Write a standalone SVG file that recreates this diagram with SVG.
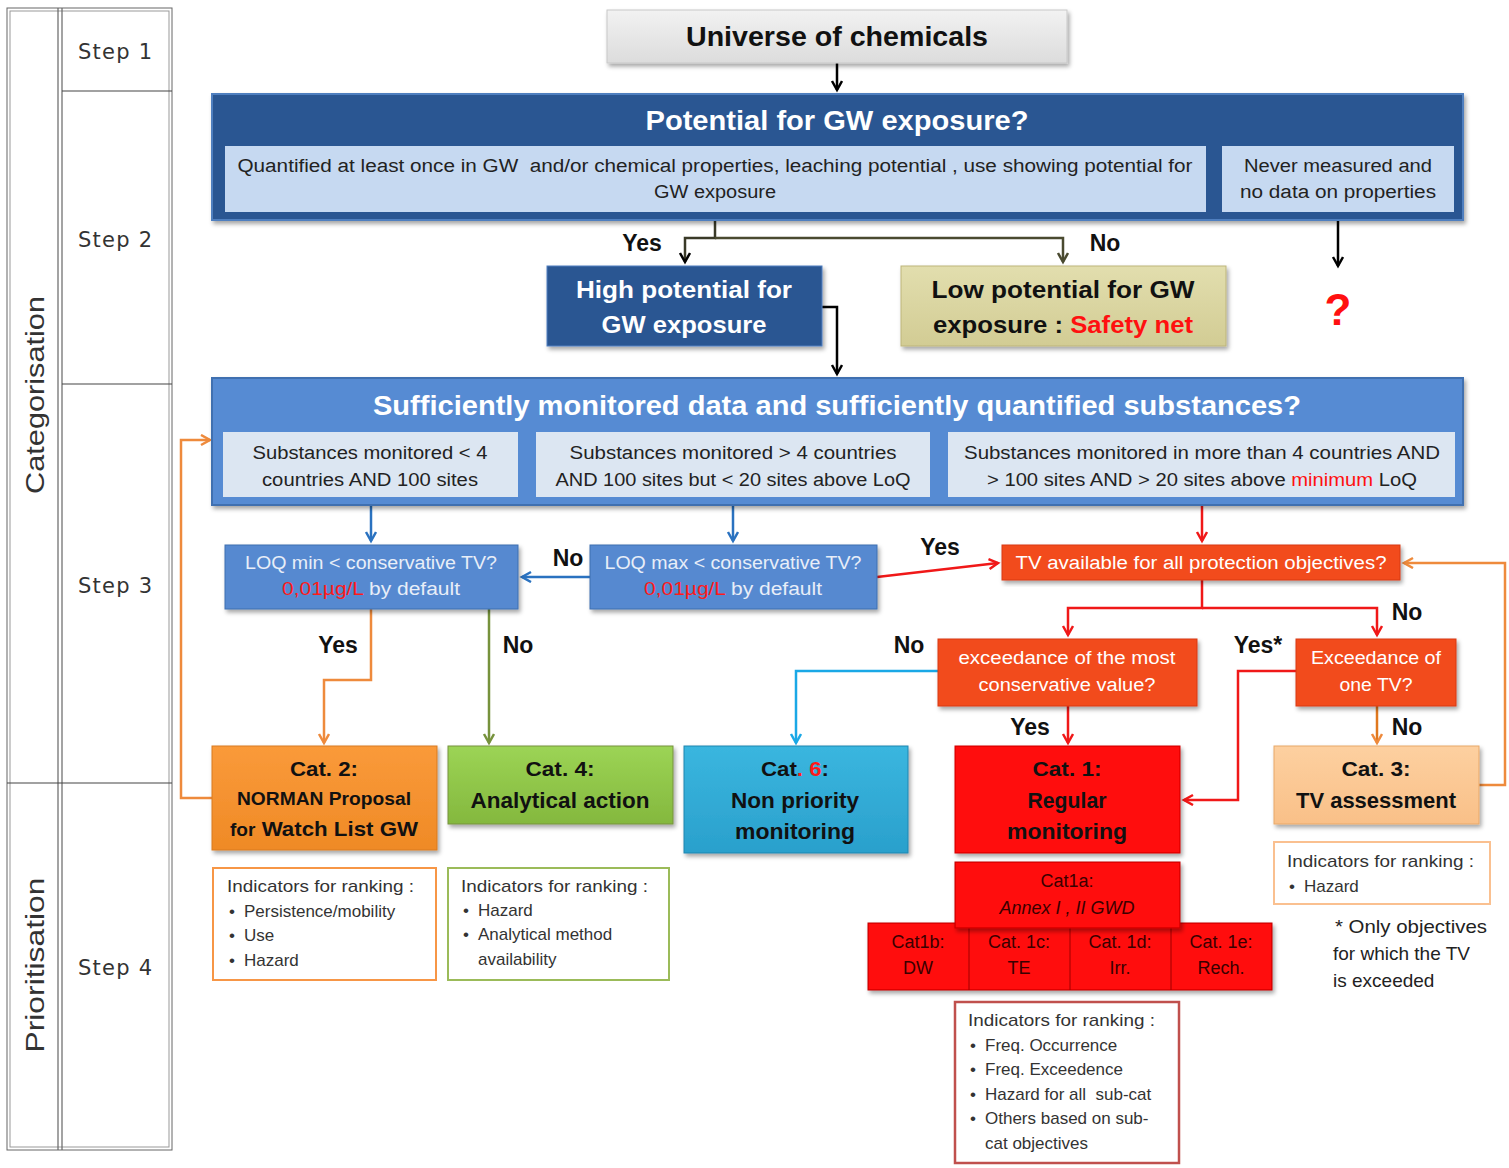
<svg xmlns="http://www.w3.org/2000/svg" width="1509" height="1168" viewBox="0 0 1509 1168">
<defs>
<filter id="sh" x="-10%" y="-10%" width="120%" height="130%"><feDropShadow dx="2" dy="3" stdDeviation="2" flood-color="#000" flood-opacity="0.35"/></filter>
<marker id="aK" markerUnits="userSpaceOnUse" markerWidth="16" markerHeight="16" refX="10" refY="6" orient="auto"><path d="M1,1 L10,6 L1,11" fill="none" stroke="#000" stroke-width="2.5"/></marker>
<marker id="aO" markerUnits="userSpaceOnUse" markerWidth="16" markerHeight="16" refX="10" refY="6" orient="auto"><path d="M1,1 L10,6 L1,11" fill="none" stroke="#4a4a30" stroke-width="2.5"/></marker>
<marker id="aB" markerUnits="userSpaceOnUse" markerWidth="16" markerHeight="16" refX="10" refY="6" orient="auto"><path d="M1,1 L10,6 L1,11" fill="none" stroke="#2a72c0" stroke-width="2.5"/></marker>
<marker id="aR" markerUnits="userSpaceOnUse" markerWidth="16" markerHeight="16" refX="10" refY="6" orient="auto"><path d="M1,1 L10,6 L1,11" fill="none" stroke="#f01818" stroke-width="2.5"/></marker>
<marker id="aOr" markerUnits="userSpaceOnUse" markerWidth="16" markerHeight="16" refX="10" refY="6" orient="auto"><path d="M1,1 L10,6 L1,11" fill="none" stroke="#ee8a3c" stroke-width="2.5"/></marker>
<marker id="aG" markerUnits="userSpaceOnUse" markerWidth="16" markerHeight="16" refX="10" refY="6" orient="auto"><path d="M1,1 L10,6 L1,11" fill="none" stroke="#76923c" stroke-width="2.5"/></marker>
<marker id="aC" markerUnits="userSpaceOnUse" markerWidth="16" markerHeight="16" refX="10" refY="6" orient="auto"><path d="M1,1 L10,6 L1,11" fill="none" stroke="#1aa8e6" stroke-width="2.5"/></marker>
<linearGradient id="gGray" x1="0" y1="0" x2="0" y2="1"><stop offset="0" stop-color="#f2f2f2"/><stop offset="1" stop-color="#dcdcdc"/></linearGradient>
<linearGradient id="gKhaki" x1="0" y1="0" x2="0" y2="1"><stop offset="0" stop-color="#e2deae"/><stop offset="1" stop-color="#d2cc94"/></linearGradient>
<linearGradient id="gOrange" x1="0" y1="0" x2="0" y2="1"><stop offset="0" stop-color="#fa9a3a"/><stop offset="1" stop-color="#ef8a26"/></linearGradient>
<linearGradient id="gGreen" x1="0" y1="0" x2="0" y2="1"><stop offset="0" stop-color="#9cd455"/><stop offset="1" stop-color="#84b83e"/></linearGradient>
<linearGradient id="gCyan" x1="0" y1="0" x2="0" y2="1"><stop offset="0" stop-color="#3ab6df"/><stop offset="1" stop-color="#2aa0cc"/></linearGradient>
<linearGradient id="gPeach" x1="0" y1="0" x2="0" y2="1"><stop offset="0" stop-color="#fdd0a0"/><stop offset="1" stop-color="#f9c088"/></linearGradient>
</defs>
<style>
text{font-family:"Liberation Sans",Arial,sans-serif}
.b{font-weight:bold}
.t{text-anchor:middle}
.lbl{font-size:23px;font-weight:bold;fill:#111}
.w{fill:#fff}
.in{font-size:17px;fill:#333}
.cn{fill:none;stroke-width:2.5}
.sub{font-size:18px;fill:#3a0000}
.st{font-family:"DejaVu Sans",sans-serif;font-size:21px;fill:#333;text-anchor:middle}
</style>

<g id="legend">
<rect x="7" y="8" width="165" height="1142" fill="#fff" stroke="#666" stroke-width="1"/>
<rect x="10" y="11" width="159" height="1136" fill="none" stroke="#999" stroke-width="1"/>
<line x1="58" y1="8" x2="58" y2="1150" stroke="#666" stroke-width="1.2"/>
<line x1="62" y1="8" x2="62" y2="1150" stroke="#666" stroke-width="1.2"/>
<line x1="62" y1="91" x2="172" y2="91" stroke="#444" stroke-width="1.2"/>
<line x1="62" y1="384" x2="172" y2="384" stroke="#444" stroke-width="1.2"/>
<line x1="7" y1="783" x2="172" y2="783" stroke="#444" stroke-width="1.2"/>
<text x="115" y="59" class="st" textLength="74">Step 1</text>
<text x="115" y="247" class="st" textLength="74">Step 2</text>
<text x="115" y="593" class="st" textLength="74">Step 3</text>
<text x="115" y="975" class="st" textLength="74">Step 4</text>
<text transform="translate(44,395) rotate(-90)" class="t" font-size="26" fill="#333" textLength="198" lengthAdjust="spacingAndGlyphs">Categorisation</text>
<text transform="translate(44,965) rotate(-90)" class="t" font-size="26" fill="#333" textLength="175" lengthAdjust="spacingAndGlyphs">Prioritisation</text>
</g>

<g id="connectors">
<path class="cn" d="M837,63 V90" stroke="#000" marker-end="url(#aK)"/>
<path class="cn" d="M715,212 V238 H685 V262" stroke="#3a3a28" marker-end="url(#aK)"/>
<path class="cn" d="M715,238 H1063 V262" stroke="#4a4a30" marker-end="url(#aO)"/>
<path class="cn" d="M1338,212 V266" stroke="#000" marker-end="url(#aK)"/>
<path class="cn" d="M822,307 H837 V374" stroke="#000" marker-end="url(#aK)"/>
<path class="cn" d="M371,497 V541" stroke="#2a72c0" marker-end="url(#aB)"/>
<path class="cn" d="M733,497 V541" stroke="#2a72c0" marker-end="url(#aB)"/>
<path class="cn" d="M1202,497 V541" stroke="#f01818" marker-end="url(#aR)"/>
<path class="cn" d="M590,577 H522" stroke="#2a72c0" marker-end="url(#aB)"/>
<path class="cn" d="M877,577 L998,563" stroke="#f01818" marker-end="url(#aR)"/>
<path class="cn" d="M1202,580 V608 H1068 V635" stroke="#f01818" marker-end="url(#aR)"/>
<path class="cn" d="M1202,608 H1377 V635" stroke="#f01818" marker-end="url(#aR)"/>
<path class="cn" d="M938,671 H796 V743" stroke="#1aa8e6" marker-end="url(#aC)"/>
<path class="cn" d="M1296,671 H1238 V800 H1184" stroke="#f01818" marker-end="url(#aR)"/>
<path class="cn" d="M1068,706 V743" stroke="#f01818" marker-end="url(#aR)"/>
<path class="cn" d="M1377,706 V743" stroke="#e0781e" marker-end="url(#aOr)"/>
<path class="cn" d="M1479,785 H1505 V563 H1404" stroke="#ee8a3c" marker-end="url(#aOr)"/>
<path class="cn" d="M212,798 H181 V440 H210" stroke="#ee8a3c" marker-end="url(#aOr)"/>
<path class="cn" d="M371,609 V680 H324 V743" stroke="#ee8a3c" marker-end="url(#aOr)"/>
<path class="cn" d="M489,609 V743" stroke="#76923c" marker-end="url(#aG)"/>
<text x="642" y="251" class="lbl t">Yes</text>
<text x="1105" y="251" class="lbl t">No</text>
<text x="1338" y="325" class="t b" font-size="44" fill="#ff1010">?</text>
<text x="568" y="566" class="lbl t">No</text>
<text x="940" y="555" class="lbl t">Yes</text>
<text x="1407" y="620" class="lbl t">No</text>
<text x="909" y="653" class="lbl t">No</text>
<text x="1258" y="653" class="lbl t">Yes*</text>
<text x="338" y="653" class="lbl t">Yes</text>
<text x="518" y="653" class="lbl t">No</text>
<text x="1030" y="735" class="lbl t">Yes</text>
<text x="1407" y="735" class="lbl t">No</text>
</g>

<g id="universe">
<rect x="607" y="10" width="460" height="53" fill="url(#gGray)" stroke="#c8c8c8" filter="url(#sh)"/>
<text x="837" y="46" class="t b" font-size="28" fill="#111" textLength="302" lengthAdjust="spacingAndGlyphs">Universe of chemicals</text>
</g>

<g id="potential">
<rect x="212" y="94" width="1251" height="126" fill="#2a5792" stroke="#4f7fbf" stroke-width="2" filter="url(#sh)"/>
<text x="837" y="130" class="t b w" font-size="27" textLength="383" lengthAdjust="spacingAndGlyphs">Potential for GW exposure?</text>
<rect x="225" y="146" width="981" height="66" fill="#c6d9f1"/>
<text x="715" y="172" class="t" font-size="18" fill="#222" textLength="955" lengthAdjust="spacingAndGlyphs" xml:space="preserve">Quantified at least once in GW  and/or chemical properties, leaching potential , use showing potential for</text>
<text x="715" y="198" class="t" font-size="18" fill="#222" textLength="122" lengthAdjust="spacingAndGlyphs">GW exposure</text>
<rect x="1222" y="146" width="232" height="66" fill="#c6d9f1"/>
<text x="1338" y="172" class="t" font-size="18" fill="#222" textLength="188" lengthAdjust="spacingAndGlyphs">Never measured and</text>
<text x="1338" y="198" class="t" font-size="18" fill="#222" textLength="196" lengthAdjust="spacingAndGlyphs">no data on properties</text>
</g>

<g id="high">
<rect x="547" y="266" width="275" height="80" fill="#2a5792" stroke="#4f7fbf" filter="url(#sh)"/>
<text x="684" y="298" class="t b w" font-size="24" textLength="216" lengthAdjust="spacingAndGlyphs">High potential for</text>
<text x="684" y="333" class="t b w" font-size="24" textLength="165" lengthAdjust="spacingAndGlyphs">GW exposure</text>
</g>

<g id="low">
<rect x="901" y="266" width="325" height="80" fill="url(#gKhaki)" stroke="#bdb57a" filter="url(#sh)"/>
<text x="1063" y="298" class="t b" font-size="24" fill="#111" textLength="263" lengthAdjust="spacingAndGlyphs">Low potential for GW</text>
<text x="1063" y="333" class="t b" font-size="24" fill="#111" textLength="260" lengthAdjust="spacingAndGlyphs">exposure : <tspan fill="#ff1010">Safety net</tspan></text>
</g>

<g id="sufficient">
<rect x="212" y="378" width="1251" height="127" fill="#578bd3" stroke="#3f6fb0" stroke-width="2" filter="url(#sh)"/>
<text x="837" y="415" class="t b w" font-size="27" textLength="928" lengthAdjust="spacingAndGlyphs">Sufficiently monitored data and sufficiently quantified substances?</text>
<rect x="223" y="432" width="295" height="65" fill="#dce6f2"/>
<text x="370" y="459" class="t" font-size="18" fill="#222" textLength="235" lengthAdjust="spacingAndGlyphs">Substances monitored &lt; 4</text>
<text x="370" y="486" class="t" font-size="18" fill="#222" textLength="216" lengthAdjust="spacingAndGlyphs">countries AND 100 sites</text>
<rect x="536" y="432" width="394" height="65" fill="#dce6f2"/>
<text x="733" y="459" class="t" font-size="18" fill="#222" textLength="327" lengthAdjust="spacingAndGlyphs">Substances monitored &gt; 4 countries</text>
<text x="733" y="486" class="t" font-size="18" fill="#222" textLength="355" lengthAdjust="spacingAndGlyphs">AND 100 sites but &lt; 20 sites above LoQ</text>
<rect x="948" y="432" width="507" height="65" fill="#dce6f2"/>
<text x="1202" y="459" class="t" font-size="18" fill="#222" textLength="476" lengthAdjust="spacingAndGlyphs">Substances monitored in more than 4 countries AND</text>
<text x="1202" y="486" class="t" font-size="18" fill="#222" textLength="430" lengthAdjust="spacingAndGlyphs">&gt; 100 sites AND &gt; 20 sites above <tspan fill="#ff1010">minimum</tspan> LoQ</text>
</g>

<g id="loqmin">
<rect x="225" y="545" width="293" height="64" fill="#5689d0" stroke="#3f6fb0" filter="url(#sh)"/>
<text x="371" y="569" class="t" font-size="18" fill="#e8eef8" textLength="252" lengthAdjust="spacingAndGlyphs">LOQ min &lt; conservative TV?</text>
<text x="371" y="595" class="t" font-size="18" fill="#e8eef8" textLength="178" lengthAdjust="spacingAndGlyphs"><tspan fill="#ff1a1a">0,01µg/L</tspan> by default</text>
</g>

<g id="loqmax">
<rect x="590" y="545" width="287" height="64" fill="#5689d0" stroke="#3f6fb0" filter="url(#sh)"/>
<text x="733" y="569" class="t" font-size="18" fill="#e8eef8" textLength="257" lengthAdjust="spacingAndGlyphs">LOQ max &lt; conservative TV?</text>
<text x="733" y="595" class="t" font-size="18" fill="#e8eef8" textLength="178" lengthAdjust="spacingAndGlyphs"><tspan fill="#ff1a1a">0,01µg/L</tspan> by default</text>
</g>

<g id="tvavail">
<rect x="1002" y="545" width="398" height="35" fill="#f24c1a" stroke="#d83a10" filter="url(#sh)"/>
<text x="1201" y="569" class="t w" font-size="18" textLength="371" lengthAdjust="spacingAndGlyphs">TV available for all protection objectives?</text>
</g>

<g id="exceedmost">
<rect x="938" y="639" width="259" height="67" fill="#f24c1a" stroke="#d83a10" filter="url(#sh)"/>
<text x="1067" y="664" class="t w" font-size="18" textLength="217" lengthAdjust="spacingAndGlyphs">exceedance of the most</text>
<text x="1067" y="691" class="t w" font-size="18" textLength="177" lengthAdjust="spacingAndGlyphs">conservative value?</text>
</g>

<g id="exceedone">
<rect x="1296" y="639" width="160" height="67" fill="#f24c1a" stroke="#d83a10" filter="url(#sh)"/>
<text x="1376" y="664" class="t w" font-size="18" textLength="130" lengthAdjust="spacingAndGlyphs">Exceedance of</text>
<text x="1376" y="691" class="t w" font-size="18" textLength="73" lengthAdjust="spacingAndGlyphs">one TV?</text>
</g>

<g id="cat2">
<rect x="212" y="746" width="225" height="104" fill="url(#gOrange)" stroke="#d87a20" filter="url(#sh)"/>
<text x="324" y="776" class="t b" font-size="20" fill="#111" textLength="68" lengthAdjust="spacingAndGlyphs">Cat. 2:</text>
<text x="324" y="805" class="t b" font-size="18" fill="#111" textLength="174" lengthAdjust="spacingAndGlyphs">NORMAN Proposal</text>
<text x="324" y="836" class="t b" font-size="21" fill="#111" textLength="188" lengthAdjust="spacingAndGlyphs"><tspan font-size="18">for</tspan> Watch List GW</text>
</g>

<g id="cat4">
<rect x="448" y="746" width="225" height="78" fill="url(#gGreen)" stroke="#76923c" filter="url(#sh)"/>
<text x="560" y="776" class="t b" font-size="20" fill="#111" textLength="69" lengthAdjust="spacingAndGlyphs">Cat. 4:</text>
<text x="560" y="808" class="t b" font-size="22" fill="#111" textLength="179" lengthAdjust="spacingAndGlyphs">Analytical action</text>
</g>

<g id="cat6">
<rect x="684" y="746" width="224" height="107" fill="url(#gCyan)" stroke="#1f86b0" filter="url(#sh)"/>
<text x="795" y="776" class="t b" font-size="20" fill="#111" textLength="68" lengthAdjust="spacingAndGlyphs">Cat<tspan fill="#ff1a1a">. 6</tspan>:</text>
<text x="795" y="808" class="t b" font-size="22" fill="#111" textLength="128" lengthAdjust="spacingAndGlyphs">Non priority</text>
<text x="795" y="839" class="t b" font-size="22" fill="#111" textLength="120" lengthAdjust="spacingAndGlyphs">monitoring</text>
</g>

<g id="cat1">
<rect x="955" y="746" width="225" height="107" fill="#ff0a0a" stroke="#d00000" filter="url(#sh)"/>
<text x="1067" y="776" class="t b" font-size="20" fill="#111" textLength="69" lengthAdjust="spacingAndGlyphs">Cat. 1:</text>
<text x="1067" y="808" class="t b" font-size="22" fill="#111" textLength="79" lengthAdjust="spacingAndGlyphs">Regular</text>
<text x="1067" y="839" class="t b" font-size="22" fill="#111" textLength="120" lengthAdjust="spacingAndGlyphs">monitoring</text>
</g>

<g id="cat1sub">
<rect x="868" y="923" width="404" height="67" fill="#ff0a0a" stroke="#c00000" filter="url(#sh)"/>
<line x1="969" y1="923" x2="969" y2="990" stroke="#a00000"/>
<line x1="1070" y1="923" x2="1070" y2="990" stroke="#a00000"/>
<line x1="1171" y1="923" x2="1171" y2="990" stroke="#a00000"/>
<text x="918" y="948" class="t sub">Cat1b:</text>
<text x="918" y="974" class="t sub">DW</text>
<text x="1019" y="948" class="t sub">Cat. 1c:</text>
<text x="1019" y="974" class="t sub">TE</text>
<text x="1120" y="948" class="t sub">Cat. 1d:</text>
<text x="1120" y="974" class="t sub">Irr.</text>
<text x="1221" y="948" class="t sub">Cat. 1e:</text>
<text x="1221" y="974" class="t sub">Rech.</text>
</g>

<g id="cat1a">
<rect x="955" y="862" width="225" height="66" fill="#ff0a0a" stroke="#c00000" filter="url(#sh)"/>
<text x="1067" y="887" class="t sub">Cat1a:</text>
<text x="1067" y="914" class="t sub" font-style="italic">Annex I , II GWD</text>
</g>

<g id="cat3">
<rect x="1274" y="746" width="205" height="78" fill="url(#gPeach)" stroke="#e8a868" filter="url(#sh)"/>
<text x="1376" y="776" class="t b" font-size="20" fill="#111" textLength="69" lengthAdjust="spacingAndGlyphs">Cat. 3:</text>
<text x="1376" y="808" class="t b" font-size="22" fill="#111" textLength="160" lengthAdjust="spacingAndGlyphs">TV assessment</text>
</g>

<g id="ind2">
<rect x="213" y="868" width="223" height="112" fill="#fff" stroke="#f79646" stroke-width="2"/>
<text x="227" y="892" class="in" textLength="187" lengthAdjust="spacingAndGlyphs">Indicators for ranking :</text>
<text x="229" y="917" class="in">•<tspan x="244">Persistence/mobility</tspan></text>
<text x="229" y="941" class="in">•<tspan x="244">Use</tspan></text>
<text x="229" y="966" class="in">•<tspan x="244">Hazard</tspan></text>
</g>

<g id="ind4">
<rect x="448" y="868" width="221" height="112" fill="#fff" stroke="#9bbb59" stroke-width="2"/>
<text x="461" y="892" class="in" textLength="187" lengthAdjust="spacingAndGlyphs">Indicators for ranking :</text>
<text x="463" y="916" class="in">•<tspan x="478">Hazard</tspan></text>
<text x="463" y="940" class="in">•<tspan x="478">Analytical method</tspan></text>
<text x="478" y="965" class="in">availability</text>
</g>

<g id="ind1">
<rect x="955" y="1002" width="224" height="161" fill="#fff" stroke="#c0504d" stroke-width="2.5"/>
<text x="968" y="1026" class="in" textLength="187" lengthAdjust="spacingAndGlyphs">Indicators for ranking :</text>
<text x="970" y="1051" class="in">•<tspan x="985">Freq. Occurrence</tspan></text>
<text x="970" y="1075" class="in">•<tspan x="985">Freq. Exceedence</tspan></text>
<text x="970" y="1100" class="in" xml:space="preserve">•<tspan x="985">Hazard for all  sub-cat</tspan></text>
<text x="970" y="1124" class="in">•<tspan x="985">Others based on sub-</tspan></text>
<text x="985" y="1149" class="in">cat objectives</text>
</g>

<g id="ind3">
<rect x="1274" y="842" width="216" height="62" fill="#fff" stroke="#fac090" stroke-width="2"/>
<text x="1287" y="867" class="in" textLength="187" lengthAdjust="spacingAndGlyphs">Indicators for ranking :</text>
<text x="1289" y="892" class="in">•<tspan x="1304">Hazard</tspan></text>
</g>

<g id="footnote">
<text x="1335" y="933" font-size="19" fill="#222" textLength="152" lengthAdjust="spacingAndGlyphs">* Only objectives</text>
<text x="1333" y="960" font-size="19" fill="#222">for which the TV</text>
<text x="1333" y="987" font-size="19" fill="#222">is exceeded</text>
</g>
</svg>
